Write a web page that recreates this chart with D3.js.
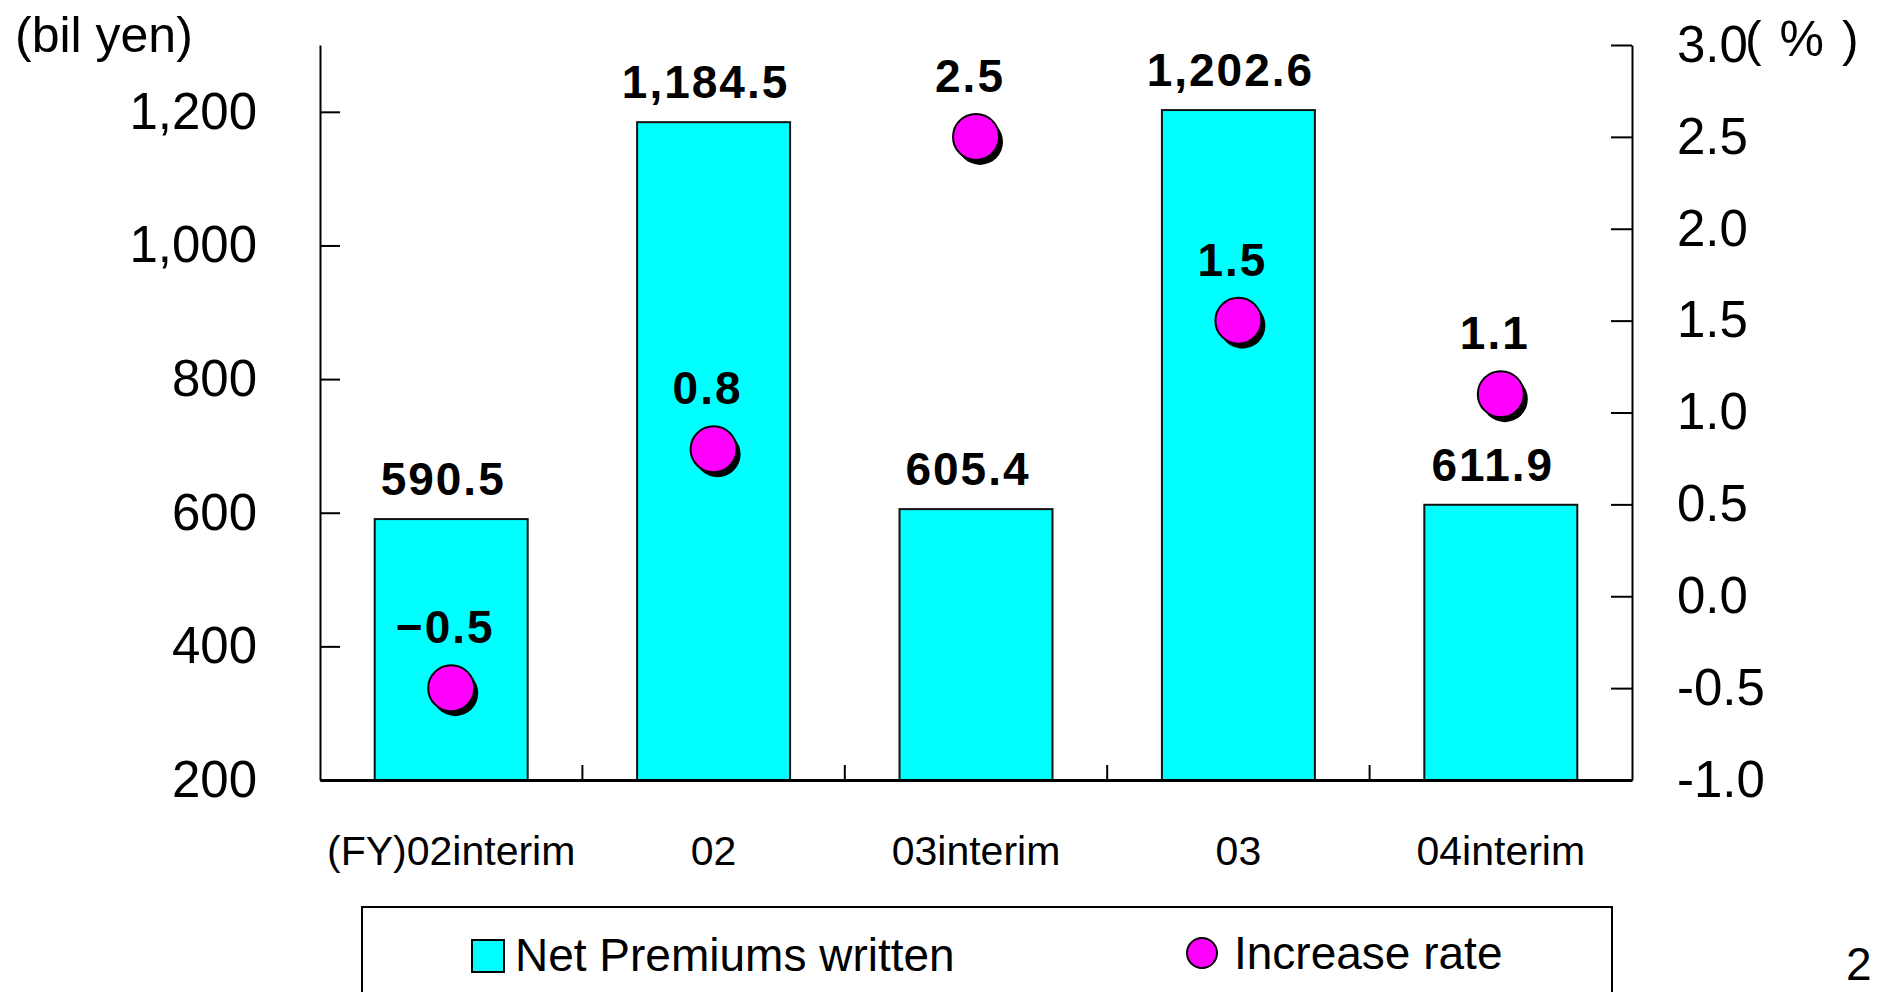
<!DOCTYPE html>
<html>
<head>
<meta charset="utf-8">
<script src="https://cdn.jsdelivr.net/npm/d3@7"></script>
<style>
  body { margin: 0; background: #fff; }
  text { font-family: "Liberation Sans", Arial, sans-serif; fill: #000; }
</style>
</head>
<body>
<svg id="chart"></svg>
<script>
const categories = ['(FY)02interim', '02', '03interim', '03', '04interim'];
const premiums = [590.5, 1184.5, 605.4, 1202.6, 611.9];
const rates = [-0.5, 0.8, 2.5, 1.5, 1.1];
const leftTicks = [200, 400, 600, 800, 1000, 1200];
const rightTicks = [-1.0, -0.5, 0.0, 0.5, 1.0, 1.5, 2.0, 2.5, 3.0];

const svgWidth = 1877;
const svgHeight = 992;
const plotLeft = 320, plotRight = 1632, plotTop = 45, plotBottom = 780;

const svg = d3.select('#chart')
  .attr('width', svgWidth)
  .attr('height', svgHeight);

const data = categories.map((c, i) => ({cat: c, premium: premiums[i], rate: rates[i]}));

const xScale = d3.scaleBand()
  .domain(categories)
  .range([plotLeft, plotRight])
  .paddingInner(0.417)
  .paddingOuter(0.2085);

const yLeft = d3.scaleLinear().domain([200, 1300]).range([plotBottom, plotTop]);
const yRight = d3.scaleLinear().domain([-1, 3]).range([plotBottom, plotTop]);

// bars
svg.selectAll('rect.bar')
  .data(data)
  .enter()
  .append('rect')
  .attr('class', 'bar')
  .attr('x', d => xScale(d.cat))
  .attr('y', d => yLeft(d.premium))
  .attr('width', xScale.bandwidth())
  .attr('height', d => yLeft(200) - yLeft(d.premium))
  .attr('fill', '#00FFFF')
  .attr('stroke', '#111')
  .attr('stroke-width', 2);

// bar labels
svg.selectAll('text.barlabel')
  .data(data)
  .enter()
  .append('text')
  .attr('class', 'barlabel')
  .attr('x', d => xScale(d.cat) + xScale.bandwidth() / 2 - 8)
  .attr('y', d => yLeft(d.premium) - 24)
  .attr('text-anchor', 'middle')
  .attr('font-size', 46)
  .attr('font-weight', 'bold')
  .attr('letter-spacing', 2)
  .text(d => d3.format(',.1f')(d.premium));

// axes
const leftAxis = d3.axisLeft(yLeft)
  .tickValues(leftTicks)
  .tickSizeInner(-20)
  .tickSizeOuter(0)
  .tickPadding(63)
  .tickFormat(d3.format(','));

const gl = svg.append('g')
  .attr('transform', 'translate(' + plotLeft + ',0)')
  .call(leftAxis);

const rightAxis = d3.axisRight(yRight)
  .tickValues(rightTicks)
  .tickSizeInner(-21)
  .tickSizeOuter(0)
  .tickPadding(45)
  .tickFormat(d => d.toFixed(1));

const gr = svg.append('g')
  .attr('transform', 'translate(' + plotRight + ',0)')
  .call(rightAxis);

[gl, gr].forEach(g => {
  g.select('.domain').attr('stroke', '#000').attr('stroke-width', 2);
  g.selectAll('.tick line').attr('stroke', '#000').attr('stroke-width', 2);
  g.selectAll('.tick text')
    .attr('font-family', '"Liberation Sans", Arial, sans-serif')
    .attr('font-size', 51)
    .attr('fill', '#000');
});

// category axis
const xAxis = d3.axisBottom(xScale).tickSize(0).tickPadding(56);
const gx = svg.append('g')
  .attr('transform', 'translate(0,' + plotBottom + ')')
  .call(xAxis);
gx.select('.domain').attr('stroke', '#000').attr('stroke-width', 3);
gx.selectAll('.tick text')
  .attr('font-family', '"Liberation Sans", Arial, sans-serif')
  .attr('font-size', 41)
  .attr('fill', '#000');

// category divider ticks
svg.selectAll('line.divider')
  .data(categories.slice(1))
  .enter()
  .append('line')
  .attr('class', 'divider')
  .attr('x1', d => xScale(d) - xScale.step() * xScale.paddingInner() / 2)
  .attr('x2', d => xScale(d) - xScale.step() * xScale.paddingInner() / 2)
  .attr('y1', plotBottom)
  .attr('y2', plotBottom - 15)
  .attr('stroke', '#000')
  .attr('stroke-width', 2);

// rate markers (with shadow)
const cx = d => xScale(d.cat) + xScale.bandwidth() / 2;
svg.selectAll('circle.shadow')
  .data(data)
  .enter()
  .append('circle')
  .attr('class', 'shadow')
  .attr('cx', d => cx(d) + 4)
  .attr('cy', d => yRight(d.rate) + 5)
  .attr('r', 23)
  .attr('fill', '#000');

svg.selectAll('circle.rate')
  .data(data)
  .enter()
  .append('circle')
  .attr('class', 'rate')
  .attr('cx', cx)
  .attr('cy', d => yRight(d.rate))
  .attr('r', 23)
  .attr('fill', '#FF00FF')
  .attr('stroke', '#000')
  .attr('stroke-width', 2);

svg.selectAll('text.ratelabel')
  .data(data)
  .enter()
  .append('text')
  .attr('class', 'ratelabel')
  .attr('x', d => cx(d) - 6)
  .attr('y', d => yRight(d.rate) - 45)
  .attr('text-anchor', 'middle')
  .attr('font-size', 46)
  .attr('font-weight', 'bold')
  .attr('letter-spacing', 2)
  .text(d => d3.format('.1f')(d.rate));

// axis titles
svg.append('text')
  .attr('x', 15)
  .attr('y', 52)
  .attr('font-size', 50)
  .text('(bil yen)');

svg.append('text')
  .attr('x', 1745)
  .attr('y', 56)
  .attr('font-size', 50)
  .attr('letter-spacing', 2)
  .text('( % )');

// legend
svg.append('rect')
  .attr('x', 362)
  .attr('y', 907)
  .attr('width', 1250)
  .attr('height', 120)
  .attr('fill', 'none')
  .attr('stroke', '#000')
  .attr('stroke-width', 2);

svg.append('rect')
  .attr('x', 472)
  .attr('y', 940)
  .attr('width', 32)
  .attr('height', 32)
  .attr('fill', '#00FFFF')
  .attr('stroke', '#000')
  .attr('stroke-width', 2);

svg.append('text')
  .attr('x', 515)
  .attr('y', 971)
  .attr('font-size', 46)
  .text('Net Premiums written');

svg.append('circle')
  .attr('cx', 1202)
  .attr('cy', 953)
  .attr('r', 15)
  .attr('fill', '#FF00FF')
  .attr('stroke', '#000')
  .attr('stroke-width', 2);

svg.append('text')
  .attr('x', 1234)
  .attr('y', 969)
  .attr('font-size', 46)
  .text('Increase rate');

// page number
svg.append('text')
  .attr('x', 1846)
  .attr('y', 980)
  .attr('font-size', 46)
  .text('2');
</script>
</body>
</html>
